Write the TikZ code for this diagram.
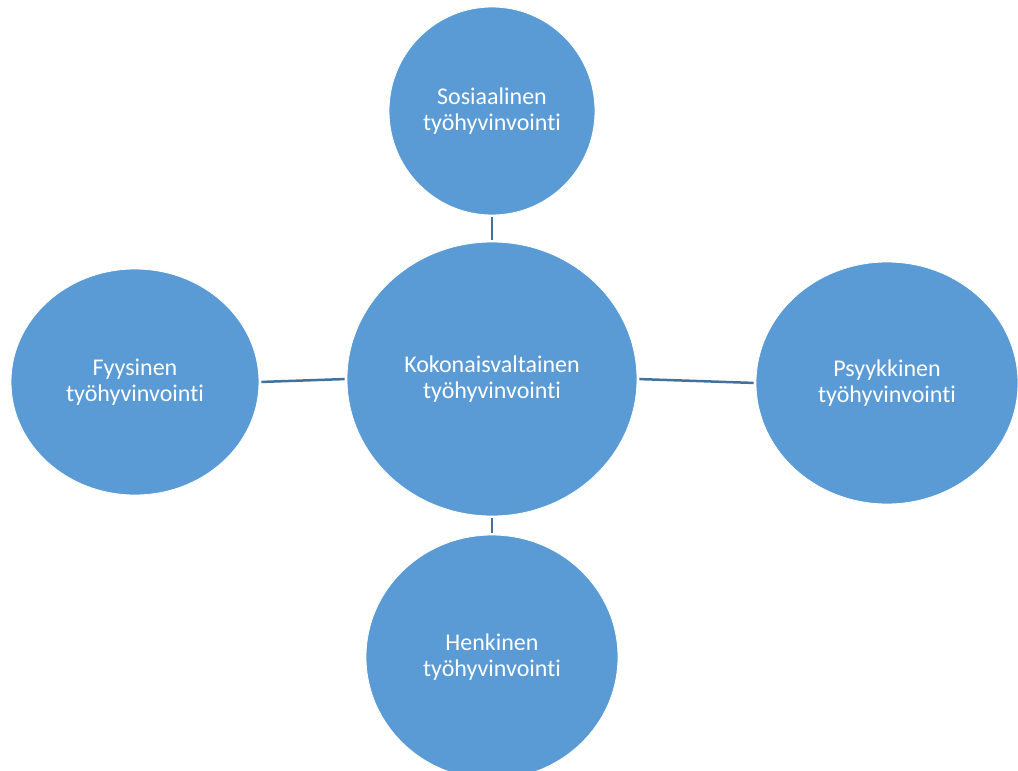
\documentclass[tikz,border=0pt]{standalone}
\usepackage{fontspec}
\setmainfont{Carlito}[Ligatures=NoCommon]
\usetikzlibrary{shapes.geometric}
\definecolor{bubble}{HTML}{5B9BD5}
\definecolor{linkc}{HTML}{41719C}
\begin{document}
\begin{tikzpicture}[x=1pt,y=-1pt,
  bubble/.style={ellipse,fill=bubble,draw=white,line width=0.8pt,inner sep=0pt,
    text=white,align=center,font=\fontsize{24}{26}\selectfont},
  link/.style={draw=linkc,line width=2.5pt,shorten <=2pt,shorten >=2pt}]
\useasboundingbox (0,0) rectangle (1018,771);
\node[bubble,minimum width=290pt,minimum height=274pt] (center) at (492,379) {Kokonaisvaltainen\\työhyvinvointi};
\node[bubble,minimum width=206pt,minimum height=208pt] (top) at (492,111) {Sosiaalinen\\työhyvinvointi};
\node[bubble,minimum width=248pt,minimum height=226pt] (left) at (135,382) {Fyysinen\\työhyvinvointi};
\node[bubble,minimum width=262pt,minimum height=242pt] (right) at (887,383) {Psyykkinen\\työhyvinvointi};
\node[bubble,minimum width=252pt,minimum height=244pt] (bottom) at (492,657) {Henkinen\\työhyvinvointi};
\draw[link] (top.south) -- (center.north);
\draw[link] (left.east) -- (center.west);
\draw[link] (center.east) -- (right.west);
\draw[link] (center.south) -- (bottom.north);
\end{tikzpicture}
\end{document}
